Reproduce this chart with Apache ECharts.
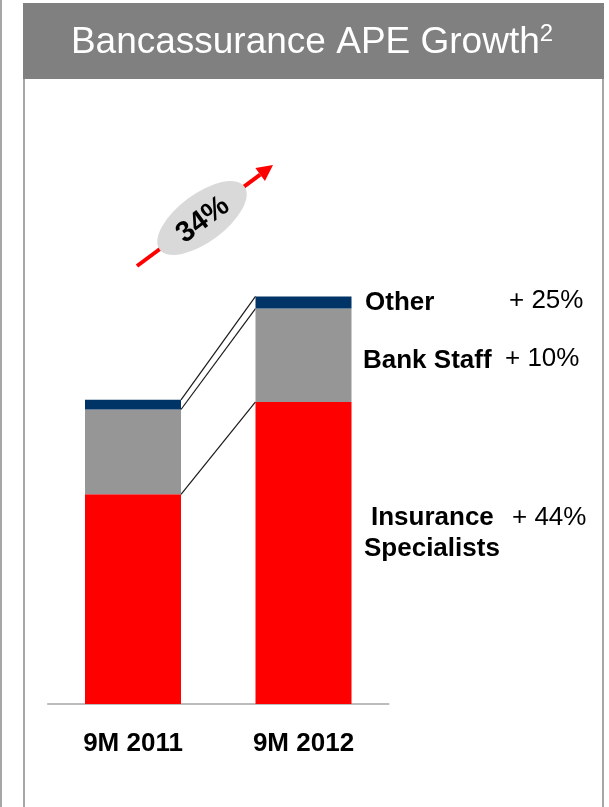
<!DOCTYPE html>
<html>
<head>
<meta charset="utf-8">
<script src="https://cdn.jsdelivr.net/npm/echarts@6/dist/echarts.min.js"></script>
<style>
  html, body { margin: 0; padding: 0; background: #fff; }
  #chart { width: 609px; height: 807px; }
</style>
</head>
<body>
<div id="chart"></div>
<script>
// Bancassurance APE by channel (index, 9M 2011 total = ~100)
const periods = ['9M 2011', '9M 2012'];
const insuranceSpecialists = [69.2, 99.7];
const bankStaff = [28.0, 30.8];
const other = [3.2, 4.0];

const FONT = '"Liberation Sans", Arial, sans-serif';
const BAR_WIDTH = 96;

function growthPct(arr) {
  return Math.round((arr[1] / arr[0] - 1) * 100);
}
const totals = periods.map((_, i) => insuranceSpecialists[i] + bankStaff[i] + other[i]);

// cumulative boundaries used by the connector lines between the two bars
const boundaries = [
  insuranceSpecialists,
  insuranceSpecialists.map((v, i) => v + bankStaff[i]),
  totals
];

const chart = echarts.init(document.getElementById('chart'), null, { renderer: 'canvas' });

const labelStyleBold = { fontFamily: FONT, fontWeight: 'bold', fontSize: 26, fill: '#000' };
const labelStyleReg = { fontFamily: FONT, fontWeight: 'normal', fontSize: 26, fill: '#000' };

// growth arrow geometry
const ax0 = 137, ay0 = 266, ax1 = 273, ay1 = 165;
const alen = Math.hypot(ax1 - ax0, ay1 - ay0);
const dx = (ax1 - ax0) / alen, dy = (ay1 - ay0) / alen;
const nx = -dy, ny = dx;
const headLen = 16, headHalf = 8;
const bx = ax1 - headLen * dx, by = ay1 - headLen * dy;
const arrowAngle = Math.atan2(ay0 - ay1, ax1 - ax0);

chart.setOption({
  backgroundColor: '#fff',
  animation: false,
  grid: { left: 47.75, width: 341, top: 249.5, height: 454.5, containLabel: false },
  xAxis: {
    type: 'category',
    data: periods,
    axisLine: { show: true, lineStyle: { color: '#a6a6a6', width: 1.5 } },
    axisTick: { show: false },
    axisLabel: {
      margin: 27,
      color: '#000',
      fontFamily: FONT,
      fontWeight: 'bold',
      fontSize: 26
    }
  },
  yAxis: {
    type: 'value',
    min: 0,
    max: 150,
    show: false,
    splitLine: { show: false }
  },
  series: [
    {
      name: 'Insurance Specialists',
      type: 'bar',
      stack: 'ape',
      barWidth: BAR_WIDTH,
      itemStyle: { color: '#ff0000' },
      data: insuranceSpecialists
    },
    {
      name: 'Bank Staff',
      type: 'bar',
      stack: 'ape',
      barWidth: BAR_WIDTH,
      itemStyle: { color: '#969696' },
      data: bankStaff
    },
    {
      name: 'Other',
      type: 'bar',
      stack: 'ape',
      barWidth: BAR_WIDTH,
      itemStyle: { color: '#003366' },
      data: other
    },
    {
      name: 'connectors',
      type: 'custom',
      silent: true,
      z: 1,
      encode: { x: 0, y: [1, 2] },
      data: boundaries.map(b => [0, b[0], b[1]]),
      renderItem: function (params, api) {
        const p1 = api.coord([0, api.value(1)]);
        const p2 = api.coord([1, api.value(2)]);
        return {
          type: 'line',
          shape: { x1: p1[0] + BAR_WIDTH / 2, y1: p1[1], x2: p2[0] - BAR_WIDTH / 2, y2: p2[1] },
          style: { stroke: '#1a1a1a', lineWidth: 1.2 }
        };
      }
    }
  ],
  graphic: [
    // outer frame line
    { type: 'rect', shape: { x: 0, y: 0, width: 2, height: 807 }, style: { fill: '#a6a6a6' } },
    // panel borders
    { type: 'rect', shape: { x: 23, y: 3, width: 2, height: 804 }, style: { fill: '#a6a6a6' } },
    { type: 'rect', shape: { x: 602, y: 3, width: 2, height: 804 }, style: { fill: '#a6a6a6' } },
    // title banner
    { type: 'rect', shape: { x: 23, y: 3, width: 581, height: 76 }, style: { fill: '#808080' } },
    {
      type: 'text',
      x: 312,
      y: 43,
      style: {
        text: '{m|Bancassurance APE Growth}{s|2}',
        align: 'center',
        verticalAlign: 'middle',
        rich: {
          m: { fontFamily: FONT, fontSize: 37, fill: '#fff', lineHeight: 42 },
          s: { fontFamily: FONT, fontSize: 24, fill: '#fff', verticalAlign: 'top', lineHeight: 42 }
        }
      }
    },
    // growth arrow
    {
      type: 'line',
      shape: { x1: ax0, y1: ay0, x2: bx, y2: by },
      style: { stroke: '#ff0000', lineWidth: 4 }
    },
    {
      type: 'polygon',
      shape: { points: [[ax1, ay1], [bx + headHalf * nx, by + headHalf * ny], [bx - headHalf * nx, by - headHalf * ny]] },
      style: { fill: '#ff0000' }
    },
    {
      type: 'circle',
      x: 202,
      y: 218,
      rotation: arrowAngle,
      scaleX: 2.2,
      shape: { cx: 0, cy: 0, r: 24 },
      style: { fill: '#d9d9d9' }
    },
    {
      type: 'text',
      x: 203,
      y: 220,
      rotation: arrowAngle,
      style: {
        text: Math.round((totals[1] / totals[0] - 1) * 100) + '%',
        fontFamily: FONT, fontWeight: 'bold', fontSize: 29, fill: '#000',
        align: 'center', verticalAlign: 'middle'
      }
    },
    // segment labels and growth rates
    { type: 'text', x: 365, y: 303, style: Object.assign({ text: 'Other', align: 'left', verticalAlign: 'middle' }, labelStyleBold) },
    { type: 'text', x: 509, y: 301, style: Object.assign({ text: '+ ' + growthPct(other) + '%', align: 'left', verticalAlign: 'middle' }, labelStyleReg) },
    { type: 'text', x: 363, y: 361, style: Object.assign({ text: 'Bank Staff', align: 'left', verticalAlign: 'middle' }, labelStyleBold) },
    { type: 'text', x: 505, y: 359, style: Object.assign({ text: '+ ' + growthPct(bankStaff) + '%', align: 'left', verticalAlign: 'middle' }, labelStyleReg) },
    { type: 'text', x: 371, y: 518, style: Object.assign({ text: 'Insurance', align: 'left', verticalAlign: 'middle' }, labelStyleBold) },
    { type: 'text', x: 364, y: 549, style: Object.assign({ text: 'Specialists', align: 'left', verticalAlign: 'middle' }, labelStyleBold) },
    { type: 'text', x: 512, y: 518, style: Object.assign({ text: '+ ' + growthPct(insuranceSpecialists) + '%', align: 'left', verticalAlign: 'middle' }, labelStyleReg) }
  ]
});
</script>
</body>
</html>
